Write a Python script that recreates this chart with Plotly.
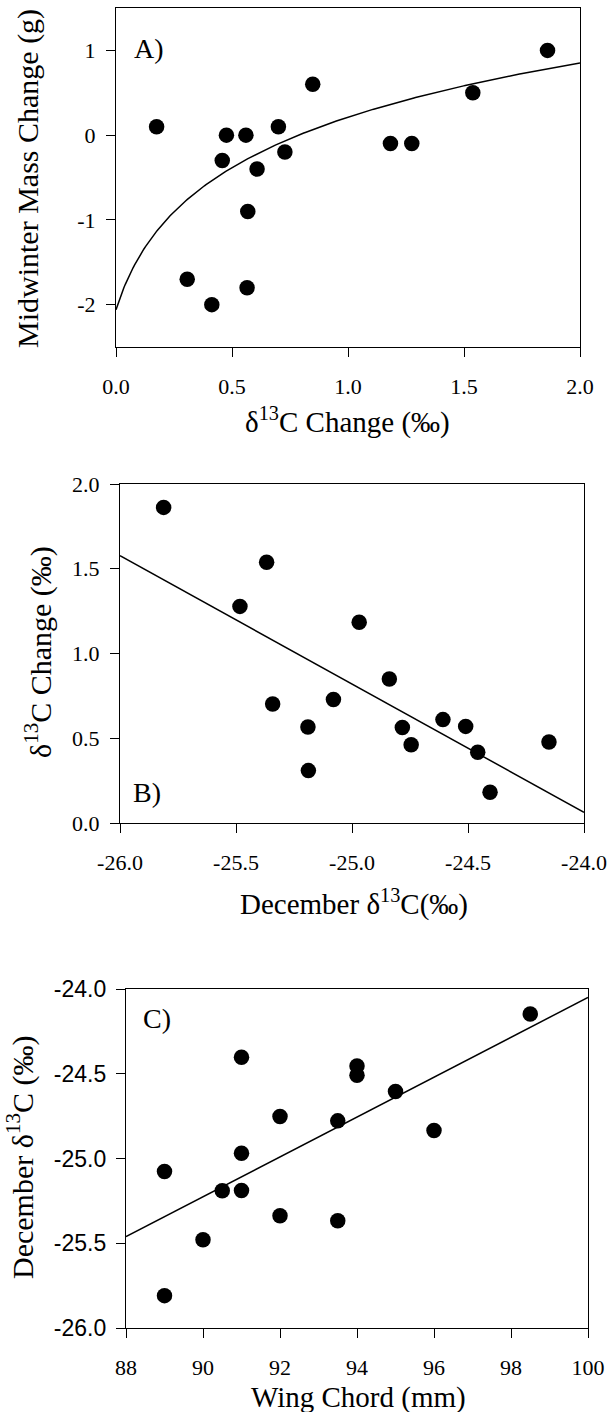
import numpy as np
import plotly.graph_objects as go

# ---------------- data ----------------
# Panel A: d13C change vs midwinter mass change
a_x = [0.175, 0.307, 0.413, 0.458, 0.476, 0.560, 0.568, 0.565, 0.608, 0.700, 0.728, 0.848, 1.183, 1.275, 1.538, 1.860]
a_y = [0.1, -1.7, -2.0, -0.3, 0.0, 0.0, -0.9, -1.8, -0.4, 0.1, -0.2, 0.6, -0.1, -0.1, 0.5, 1.0]
a_fit = (0.103, 1.0, 0.115)  # y = a + b*ln(x + c)

# Panel B: December d13C vs d13C change
b_x = [-25.812, -25.368, -25.483, -24.969, -24.839, -25.080, -25.342, -25.190, -25.188, -24.783, -24.745, -24.608, -24.510, -24.458, -24.405, -24.151]
b_y = [1.862, 1.538, 1.278, 1.184, 0.850, 0.728, 0.702, 0.566, 0.309, 0.564, 0.462, 0.610, 0.570, 0.417, 0.181, 0.478]
b_fit = (1.577, -0.757)  # y = a + b*(x + 26)

# Panel C: wing chord vs December d13C
c_x = [89, 89, 90, 90.5, 91, 91, 91, 92, 92, 93.5, 93.5, 94, 94, 95, 96, 98.5]
c_y = [-25.809, -25.077, -25.479, -25.190, -25.189, -24.969, -24.403, -24.752, -25.338, -24.778, -25.367, -24.454, -24.509, -24.605, -24.835, -24.147]
c_fit = (-25.461, 0.1176)  # y = a + b*(x - 88)

a_xticks = [0, 0.5, 1.0, 1.5, 2.0]
a_xtext = ["0.0", "0.5", "1.0", "1.5", "2.0"]
a_yticks = [-2, -1, 0, 1]
a_ytext = ["-2", "-1", "0", "1"]
b_xticks = [-26, -25.5, -25, -24.5, -24]
b_xtext = ["-26.0", "-25.5", "-25.0", "-24.5", "-24.0"]
b_yticks = [0, 0.5, 1.0, 1.5, 2.0]
b_ytext = ["0.0", "0.5", "1.0", "1.5", "2.0"]
c_xticks = [88, 90, 92, 94, 96, 98, 100]
c_xtext = ["88", "90", "92", "94", "96", "98", "100"]
c_yticks = [-26, -25.5, -25, -24.5, -24]
c_ytext = ["-26.0", "-25.5", "-25.0", "-24.5", "-24.0"]

# ---------------- figure ----------------
W, H = 615, 1412
SERIF = "Liberation Serif"
SANS = "Liberation Sans"

def px_dom(a, b):
    return [a / W, b / W]

def py_dom(top, bottom):
    return [1 - bottom / H, 1 - top / H]

fig = go.Figure()

mk = dict(color="black", size=15.5, line=dict(width=0))
# A
xs = np.linspace(0, 2, 300)
fig.add_trace(go.Scatter(x=a_x, y=a_y, mode="markers", marker=mk, xaxis="x", yaxis="y", showlegend=False))
fig.add_trace(go.Scatter(x=xs, y=a_fit[0] + a_fit[1] * np.log(xs + a_fit[2]), mode="lines",
                         line=dict(color="black", width=1.5), xaxis="x", yaxis="y", showlegend=False))
# B
xb = np.array([-26, -24])
fig.add_trace(go.Scatter(x=b_x, y=b_y, mode="markers", marker=mk, xaxis="x2", yaxis="y2", showlegend=False))
fig.add_trace(go.Scatter(x=xb, y=b_fit[0] + b_fit[1] * (xb + 26), mode="lines",
                         line=dict(color="black", width=1.5), xaxis="x2", yaxis="y2", showlegend=False))
# C
xc = np.array([88, 100])
fig.add_trace(go.Scatter(x=c_x, y=c_y, mode="markers", marker=mk, xaxis="x3", yaxis="y3", showlegend=False))
fig.add_trace(go.Scatter(x=xc, y=c_fit[0] + c_fit[1] * (xc - 88), mode="lines",
                         line=dict(color="black", width=1.5), xaxis="x3", yaxis="y3", showlegend=False))

def ax(domain, rng, tv, tt, anchor, font=SERIF, size=22, standoff=6):
    return dict(domain=domain, range=rng, tickvals=tv, ticktext=tt, anchor=anchor,
                showline=True, linecolor="black", linewidth=1.2, mirror=True,
                ticks="outside", ticklen=9, tickwidth=1.2, tickcolor="black",
                showgrid=False, zeroline=False, fixedrange=True, automargin=False,
                tickfont=dict(family=font, size=size, color="black"),
                ticklabelstandoff=standoff)

fig.update_layout(
    template="none",
    width=W, height=H, margin=dict(l=0, r=0, t=0, b=0, autoexpand=False),
    paper_bgcolor="white", plot_bgcolor="white",
    xaxis=ax(px_dom(116, 580), [0, 2], a_xticks, a_xtext, "y", standoff=10),
    yaxis=ax(py_dom(8, 347), [-2.5, 1.5], a_yticks, a_ytext, "x", standoff=6),
    xaxis2=ax(px_dom(120, 584), [-26, -24], b_xticks, b_xtext, "y2", standoff=10),
    yaxis2=ax(py_dom(484, 823), [0, 2], b_yticks, b_ytext, "x2", standoff=6),
    xaxis3=ax(px_dom(126, 588), [88, 100], c_xticks, c_xtext, "y3", standoff=10),
    yaxis3=ax(py_dom(989, 1328), [-26, -24], c_yticks, c_ytext, "x3", font=SANS, size=23, standoff=5),
)

tf = dict(family=SERIF, size=29, color="black")
tfy = dict(family=SERIF, size=30, color="black")
def ann(text, x, y, angle=0, xanchor="center", font=tf):
    return dict(text=text, x=x / W, y=1 - y / H, xref="paper", yref="paper", showarrow=False,
                textangle=angle, xanchor=xanchor, yanchor="middle", font=font)

lf = dict(family=SERIF, size=28, color="black")
fig.update_layout(annotations=[
    ann("Midwinter Mass Change (g)", 28, 179, -90, font=tfy),
    ann("δ<sup>13</sup>C Change (‰)", 348, 420),
    ann("δ<sup>13</sup>C Change (‰)", 38, 652, -90, font=tfy),
    ann("December δ<sup>13</sup>C(‰)", 354, 902),
    ann("December δ<sup>13</sup>C (‰)", 20, 1158, -90, font=tfy),
    ann("Wing Chord (mm)", 358, 1397),
    ann("A)", 132, 49, xanchor="left", font=lf),
    ann("B)", 131, 793, xanchor="left", font=lf),
    ann("C)", 141, 1018, xanchor="left", font=lf),
])

fig.write_html("out.html", config={"displayModeBar": False},
               post_script="document.body.style.margin='0';document.body.style.padding='0';"
                           "document.body.style.overflow='hidden';")
